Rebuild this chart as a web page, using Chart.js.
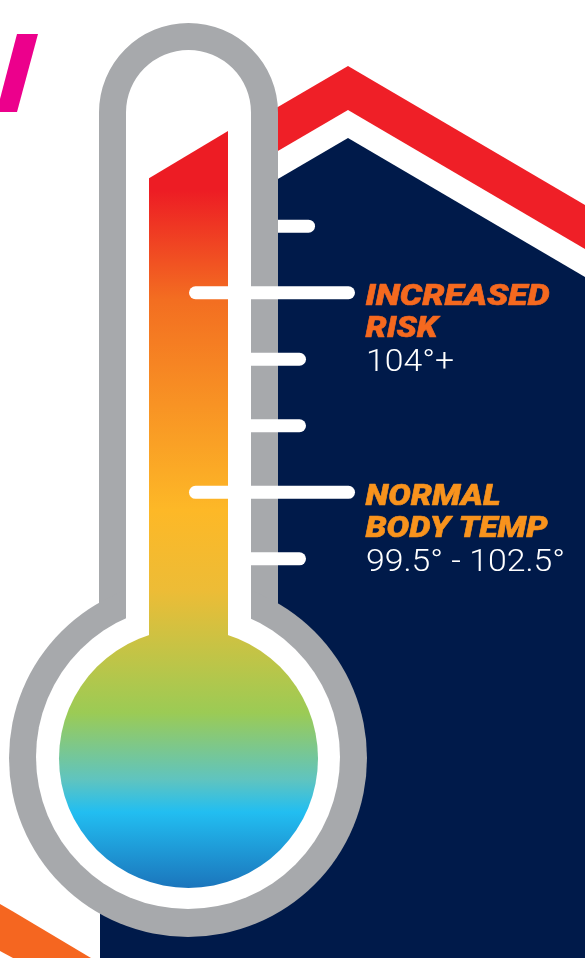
<!DOCTYPE html>
<html><head><meta charset="utf-8">
<style>html,body{margin:0;padding:0;background:#fff}#wrap{width:585px;height:958px;position:relative;overflow:hidden}canvas{display:block}</style>
<script src="https://cdn.jsdelivr.net/npm/chart.js@4"></script>
</head><body><div id="wrap"><canvas id="c" width="585" height="958"></canvas></div>
<script>
// scale readings (degrees F)
const tickTemps = [105, 104, 103, 102, 101, 100];
const tickStartX = [270, 195.5, 245, 245, 195.5, 245];
const tickEndX = [308.5, 348.5, 299.5, 299.5, 348.5, 299.5];
const fluidX = [149, 228];
const fluidTopTemps = [105.72, 106.43];
const fluidBaseTemp = 97;
const bulbTemp = 97;
// captions
const captionTemps = [104, 101];
const captionTitles = [["INCREASED", "RISK"], ["NORMAL", "BODY TEMP"]];
const captionRanges = ["104°+", "99.5° - 102.5°"];
// backdrop outlines (art axis)
const roofX = [100, 348, 585];
const roofRed = [211, 66, 205];
const roofWhite = [255, 110, 249];
const roofNavy = [283, 138, 277];
const pinkX = [0, 17, 38];
const pinkUpper = [99, 34, 34];
const pinkLower = [112, 112, 34];
const bandX = [0, 13, 91];
const bandUpper = [904, 911.6, 958];
const bandLower = [951, 958, 958];
const stemX = 188.5, stemTopArt = 112.5, stemBottomArt = 758;
const glassOuter = 179, glassInner = 152, fluidRadius = 129.5;

const pts = (xs, ys) => xs.map((x, i) => ({x, y: ys[i]}));
const canvas = document.getElementById('c');
const g = canvas.getContext('2d');
const grad = g.createLinearGradient(0, 0, 0, 958);
[[190,'#ED1C24'],[300,'#F36E21'],[510,'#FDB827'],[590,'#EDBC36'],[713,'#9BCB55'],[780,'#5FC4C0'],[812,'#22BEF1'],[888,'#1B75BC']]
  .forEach(([y, c]) => grad.addColorStop(y / 958, c));

const base = {type:'line', borderWidth:0, pointRadius:0, pointHoverRadius:0, tension:0, fill:false, yAxisID:'art'};
const GREY = '#A7A9AC', NAVY = '#001A4A';
const dot = (x, y, r, c, axis) => ({...base, data:[{x, y}], showLine:false, pointRadius:r, pointHoverRadius:r,
  pointBackgroundColor:c, pointBorderWidth:0, yAxisID:axis || 'art'});
const stem = (w, c) => ({...base, data:pts([stemX, stemX], [stemTopArt, stemBottomArt]), borderWidth:w, borderColor:c, borderCapStyle:'round'});
const tick = i => ({...base, yAxisID:'temp', data:pts([tickStartX[i], tickEndX[i]], [tickTemps[i], tickTemps[i]]),
  borderWidth:13, borderColor:'#fff', borderCapStyle:'round'});
const roof = (ys, c) => ({...base, data:pts(roofX, ys), backgroundColor:c, fill:'start'});
const shape = (ys, xs, c, f) => ({...base, data:pts(xs, ys), backgroundColor:c, fill:f});

// first in the list is painted last
const datasets = [
  tick(1), tick(2), tick(3), tick(4), tick(5),
  dot(188.5, bulbTemp, fluidRadius, grad, 'temp'),
  {...base, yAxisID:'temp', data:pts(fluidX, fluidTopTemps), backgroundColor:grad, fill:{value:fluidBaseTemp}},
  dot(188, 757, glassInner, '#fff'),
  stem(125, '#fff'),
  dot(188, 758, glassOuter, GREY),
  stem(179, GREY),
  tick(0),
  roof(roofNavy, NAVY),
  roof(roofWhite, '#fff'),
  roof(roofRed, '#EF1F27'),
  shape(pinkUpper, pinkX, '#EC008C', '+1'),
  shape(pinkLower, pinkX, 'transparent', false),
  shape(bandUpper, bandX, '#F56620', '+1'),
  shape(bandLower, bandX, 'transparent', false)
];

const titleWidths = [[184, 72], [135, 182]];
const rangeWidths = [88, 199];
const captions = {
  id:'captions',
  afterDatasetsDraw(chart) {
    const c = chart.ctx, sy = chart.scales.temp;
    const colors = ['#F5691F', '#F8931D'];
    const fitted = (text, x, y, w, stroke) => {
      const sx = w / c.measureText(text).width;
      c.save();
      c.translate(x, y);
      c.scale(sx, 1);
      if (stroke) { c.lineWidth = stroke; c.lineJoin = 'round'; c.strokeStyle = c.fillStyle; c.strokeText(text, 0, 0); }
      c.fillText(text, 0, 0);
      c.restore();
    };
    c.save();
    c.textBaseline = 'alphabetic';
    captionTemps.forEach((t, i) => {
      const y0 = sy.getPixelForValue(t);
      captionTitles[i].forEach((line, k) => {
        c.font = 'italic 900 30px Roboto';
        c.fillStyle = colors[i];
        fitted(line, 365.5, y0 + 12.5 + k * 32, titleWidths[i][k], 0.6);
      });
      c.font = '300 31px Roboto';
      c.fillStyle = '#fff';
      fitted(captionRanges[i], 366, y0 + 78.5, rangeWidths[i], 0);
    });
    c.restore();
  }
};

new Chart(canvas, {
  type:'line',
  data:{datasets},
  plugins:[captions],
  options:{
    responsive:false, animation:false, devicePixelRatio:1,
    layout:{padding:0, autoPadding:false},
    plugins:{legend:{display:false}, tooltip:{enabled:false}, title:{display:false}},
    events:[],
    scales:{
      x:{type:'linear', min:0, max:585, display:false},
      temp:{type:'linear', min:94, max:108.4, display:false},
      art:{type:'linear', min:0, max:958, reverse:true, display:false}
    }
  }
});
</script></body></html>
